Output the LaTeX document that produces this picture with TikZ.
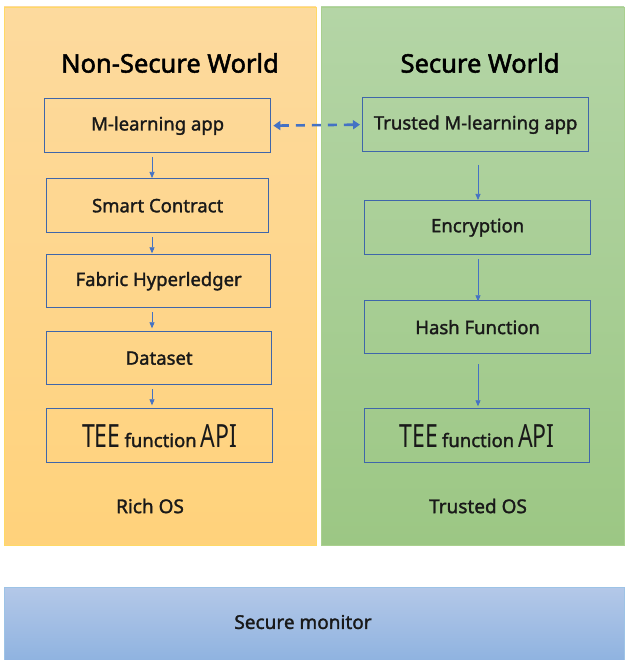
\documentclass[tikz,border=0pt]{standalone}
\usepackage{fontspec}
\setmainfont{Noto Sans}
\newfontfamily\semib{Noto Sans}[FakeBold=1.6]
\newfontfamily\headfont{Noto Sans}[FakeBold=2.0]
\newfontfamily\thinfont{Noto Sans}[FakeStretch=0.72]
\usetikzlibrary{arrows.meta,calc}
\definecolor{boxline}{HTML}{3F66AA}
\definecolor{arrowblue}{HTML}{4472C4}
\definecolor{orangeTop}{HTML}{FDDA9E}
\definecolor{orangeBot}{HTML}{FFD27B}
\definecolor{orangeEdge}{HTML}{FFD966}
\definecolor{greenTop}{HTML}{B4D5A6}
\definecolor{greenBot}{HTML}{9CC784}
\definecolor{greenEdge}{HTML}{A9D08E}
\definecolor{blueTop}{HTML}{B4C8E8}
\definecolor{blueBot}{HTML}{8FB3E0}
\definecolor{blueEdge}{HTML}{9DC3E6}
\tikzset{
  stepbox/.style={draw=boxline, line width=1.3pt, anchor=north west, inner sep=0pt,
    font=\semib\fontsize{18.5}{20}\selectfont, text=black!90},
  flow/.style={draw=arrowblue, line width=0.7pt, -{Triangle[width=5pt,length=6pt]}},
  link/.style={draw=arrowblue, line width=2.6pt, dash pattern=on 9pt off 7pt,
    {Triangle[width=9pt,length=7pt]}-{Triangle[width=9pt,length=7pt]}},
  worldtitle/.style={font=\headfont\fontsize{25.5}{28}\selectfont, text=black},
  oslabel/.style={font=\semib\fontsize{19}{21}\selectfont, text=black!90},
}
\newcommand{\teeapi}{{\thinfont\fontsize{32}{34}\selectfont TEE}\hspace{4pt}function\hspace{4pt}{\thinfont\fontsize{32}{34}\selectfont API}}
\begin{document}
\begin{tikzpicture}[x=1pt,y=-1pt]
\useasboundingbox (0,0) rectangle (624,660);
% panels
\shade[top color=orangeTop, bottom color=orangeBot, draw=orangeEdge, line width=0.8pt]
  (4,7) rectangle (316,545);
\shade[top color=greenTop, bottom color=greenBot, draw=greenEdge, line width=0.8pt]
  (321,7) rectangle (624,545);
\shade[top color=blueTop, bottom color=blueBot, draw=blueEdge, line width=0.8pt]
  (4,587) rectangle (624,660);

% titles
\node[worldtitle] (nstitle) at (170,63) {Non-Secure World};
\node[worldtitle] (stitle) at (480,63) {Secure World};

% non-secure side
\node[stepbox, minimum width=226pt, minimum height=54pt] (mapp) at (44,98) {M-learning app};
\node[stepbox, minimum width=222pt, minimum height=54pt] (smart) at (46,178) {Smart Contract};
\node[stepbox, minimum width=224pt, minimum height=53pt] (fabric) at (46,254) {Fabric Hyperledger};
\node[stepbox, minimum width=225pt, minimum height=53pt] (data) at (46,331) {Dataset};
\node[stepbox, minimum width=226pt, minimum height=54pt] (tee1) at (46,408) {\teeapi};

% secure side
\node[stepbox, minimum width=226pt, minimum height=54pt] (tapp) at (362,97) {Trusted M-learning app};
\node[stepbox, minimum width=226pt, minimum height=54pt] (enc) at (364,200) {Encryption};
\node[stepbox, minimum width=226pt, minimum height=53pt] (hash) at (364,300) {Hash Function};
\node[stepbox, minimum width=225pt, minimum height=54pt] (tee2) at (364,408) {\teeapi};

% os labels and monitor
\node[oslabel] (rich) at (150,506) {Rich OS};
\node[oslabel] (tos) at (478,506) {Trusted OS};
\node[oslabel] (mon) at (303,622) {Secure monitor};

% flows
\coordinate (a1) at (152,157);
\draw[flow] (a1) -- (a1 |- smart.north);
\draw[flow] (smart.south -| a1) ++(0,4) -- ++(0,16);
\draw[flow] (fabric.south -| a1) ++(0,4) -- ++(0,16);
\draw[flow] (data.south -| a1) ++(0,4) -- ++(0,16);
\coordinate (b1) at (478,165);
\draw[flow] (b1) -- (b1 |- enc.north);
\draw[flow] (enc.south -| b1) ++(0,4) -- ++(0,42);
\draw[flow] (hash.south -| b1) ++(0,10) -- ++(0,42);
\draw[link] ($(mapp.east)+(2,0)$) -- ($(tapp.west)+(-2,0)$);
\end{tikzpicture}
\end{document}
